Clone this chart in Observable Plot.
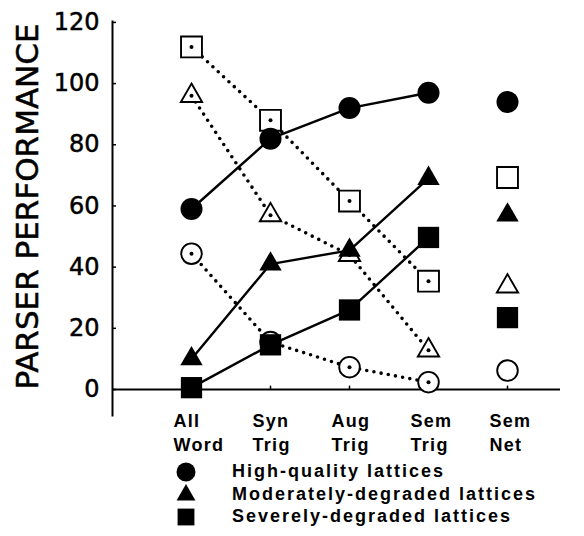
<!DOCTYPE html>
<html>
<head>
<meta charset="utf-8">
<script src="https://cdn.jsdelivr.net/npm/d3@7"></script>
<script src="https://cdn.jsdelivr.net/npm/@observablehq/plot@0.6"></script>
<style>
  body { margin: 0; background: #fff; }
  #chart { position: relative; width: 584px; height: 536px; }
  #chart > svg { position: absolute; left: 0; top: 0; }
  .legend { position: absolute; left: 0; top: 460px; width: 584px;
    font-family: "Liberation Sans", Arial, sans-serif; font-weight: bold;
    font-size: 18px; letter-spacing: 2px; color: #000; }
  .legend .row { position: relative; height: 22.5px; }
  .legend svg { position: absolute; left: 175px; top: 1px; }
  .legend span { position: absolute; left: 232px; top: 0; line-height: 22.5px; white-space: nowrap; }
</style>
</head>
<body>
<div id="chart"></div>
<script>
// Parser conditions along the x axis; the last one is plotted on its own.
const categories = ["All Word", "Syn Trig", "Aug Trig", "Sem Trig", "Sem Net"];
const tickLabels = ["All\nWord", "Syn\nTrig", "Aug\nTrig", "Sem\nTrig", "Sem\nNet"];
const connectedCategories = ["All Word", "Syn Trig", "Aug Trig", "Sem Trig"];
const yTicks = [0, 20, 40, 60, 80, 100, 120];
const yTitle = "PARSER PERFORMANCE";

// Filled symbols, joined by solid lines
const highQuality = [59, 82, 92, 97, 94];
const moderatelyDegraded = [10, 41, 45.5, 69, 57];
const severelyDegraded = [0.6, 14.6, 26, 49.7, 23.5];

// Open symbols, joined by dotted lines
const openSquares = [112, 88, 61.6, 35.4, 69.3];
const openTriangles = [96, 57, 44, 12.8, 33.7];
const openCircles = [44.4, 15.5, 7.3, 2.4, 6.2];

const legendLabels = ["High-quality lattices", "Moderately-degraded lattices", "Severely-degraded lattices"];

const rows = (values) => values.map((v, i) => ({cat: categories[i], value: v}));
const joined = (values) => rows(values).filter((d) => connectedCategories.includes(d.cat));

const solidLine = (values) => Plot.line(joined(values), {x: "cat", y: "value", stroke: "black", strokeWidth: 2.4});
const dottedLine = (values) => Plot.line(joined(values), {
  x: "cat", y: "value", stroke: "black", strokeWidth: 3.6,
  strokeDasharray: "0,7.3", strokeLinecap: "round"
});
const openDot = (values, symbol, r) => Plot.dot(rows(values), {
  x: "cat", y: "value", symbol, r, fill: "white", stroke: "black", strokeWidth: 1.9
});
const centerDot = (values) => Plot.dot(joined(values), {x: "cat", y: "value", r: 2, fill: "black"});
const filledDot = (values, symbol, r) => Plot.dot(rows(values), {x: "cat", y: "value", symbol, r, fill: "black"});

const chart = Plot.plot({
  width: 584,
  height: 458,
  marginTop: 21,
  marginBottom: 43,
  marginLeft: 112,
  marginRight: 24,
  style: {background: "white", color: "black"},
  x: {type: "point", domain: categories, range: [191, 507], padding: 0, axis: null},
  y: {domain: [-8.5, 120.3], axis: null},
  marks: [
    Plot.frame({anchor: "left", strokeWidth: 2}),
    Plot.ruleY([0], {strokeWidth: 2.2}),
    Plot.ruleX(categories, {x: (d) => d, y1: 0, y2: 1.1, strokeWidth: 1.5}),
    Plot.axisY(yTicks, {
      tickSize: -4, tickPadding: 17, fontSize: 24,
      fontFamily: "DejaVu Sans", label: null, strokeWidth: 1.5
    }),
    Plot.text([yTitle], {
      frameAnchor: "left", textAnchor: "middle", rotate: -90, dx: -84, dy: -12,
      fontSize: 31, fontFamily: "DejaVu Sans", fill: "black"
    }),
    Plot.text(categories, {
      x: (d) => d, text: (d, i) => tickLabels[i],
      frameAnchor: "bottom", lineAnchor: "top", textAnchor: "start",
      dx: -18, dy: -5, lineHeight: 1.3,
      fontSize: 18, fontWeight: "bold", fontFamily: "Liberation Sans, Arial, sans-serif"
    }),

    dottedLine(openSquares),
    dottedLine(openTriangles),
    dottedLine(openCircles),
    solidLine(highQuality),
    solidLine(moderatelyDegraded),
    solidLine(severelyDegraded),

    openDot(openSquares, "square", 11.8),
    openDot(openTriangles, "triangle", 7.9),
    openDot(openCircles, "circle", 10.3),
    centerDot(openSquares),
    centerDot(openTriangles),
    centerDot(openCircles),

    filledDot(highQuality, "circle", 11),
    filledDot(moderatelyDegraded, "triangle", 8.3),
    filledDot(severelyDegraded, "square", 12)
  ]
});

// Slightly spaced lettering for the category labels
d3.select(chart).selectAll('g[aria-label="text"] text')
  .filter(function () { return this.textContent !== yTitle; })
  .style("letter-spacing", "1.3px");

// Slightly heavier strokes on the axis numerals and title
d3.select(chart).selectAll('g[aria-label="y-axis tick label"] text, g[aria-label="text"] text')
  .filter(function () { return !this.querySelector("tspan"); })
  .style("stroke", "black").style("stroke-width", "0.5px");

const root = document.getElementById("chart");
root.appendChild(chart);

// Legend for the filled-symbol series
const legend = d3.select(root).append("div").attr("class", "legend");
const legendSymbols = [d3.symbolCircle, d3.symbolTriangle, d3.symbolSquare];
const legendSizes = [Math.PI * 9.5 * 9.5, Math.PI * 7 * 7, Math.PI * 9.5 * 9.5];
legendLabels.forEach((label, i) => {
  const row = legend.append("div").attr("class", "row");
  const svg = row.append("svg").attr("width", 22).attr("height", 22);
  svg.append("path")
    .attr("transform", "translate(11,11)")
    .attr("d", d3.symbol(legendSymbols[i], legendSizes[i])())
    .attr("fill", "black");
  row.append("span").text(label);
});
</script>
</body>
</html>
